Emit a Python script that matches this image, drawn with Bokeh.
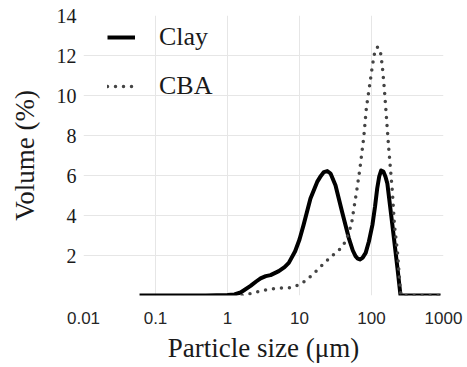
from bokeh.plotting import figure
from bokeh.models import FixedTicker, CustomJSTickFormatter, Legend, LegendItem
from bokeh.embed import file_html
from bokeh.resources import INLINE

# Particle size distribution data
clay_size = [0.06, 0.5, 1.0, 1.25, 1.52, 2.09, 2.5, 2.88, 3.4, 3.96, 5.16, 6.2, 7.1, 8.7, 10.0,
             11.4, 14.2, 17.6, 19.8, 21.8, 24.3, 27.0, 31.6, 39, 48.4, 55, 60, 64.5, 69, 75,
             83, 92, 103, 112, 120, 128, 136, 146, 156, 166, 195, 229, 253, 910]
clay_vol = [0.0, 0.0, 0.02, 0.05, 0.15, 0.48, 0.7, 0.86, 0.97, 1.02, 1.22, 1.42, 1.63, 2.21, 2.8,
            3.53, 4.85, 5.68, 5.98, 6.17, 6.22, 6.1, 5.51, 4.19, 2.87, 2.25, 1.97, 1.84, 1.8, 1.88,
            2.13, 2.7, 3.53, 4.45, 5.35, 5.95, 6.25, 6.2, 5.95, 5.6, 3.53, 1.39, 0.0, 0.0]

cba_size = [1.6, 2.2, 2.9, 3.7, 4.6, 6.0, 7.9, 10.2, 12.5, 15.2, 18.2, 21.8, 26.9, 32, 39, 44.6,
            52.5, 57, 63, 69, 78, 85, 95, 103, 110, 116, 122, 128, 134, 141, 151, 162, 174, 195,
            208, 229, 255, 910]
cba_vol = [0.0, 0.12, 0.23, 0.3, 0.35, 0.38, 0.4, 0.56, 0.78, 1.05, 1.32, 1.6, 1.91, 2.15, 2.41,
           2.79, 3.53, 4.36, 5.35, 6.34, 7.9, 9.4, 10.6, 11.5, 12.1, 12.38, 12.42, 12.38, 12.1, 11.5,
           10.3, 8.8, 7.3, 5.18, 3.53, 2.21, 0.0, 0.0]

x_ticks = [0.01, 0.1, 1, 10, 100, 1000]
y_ticks = [0, 2, 4, 6, 8, 10, 12, 14]

SERIF = "Liberation Serif"
SANS = "Liberation Sans"

p = figure(width=465, height=365, x_axis_type="log", x_range=(0.01, 1000), y_range=(0, 14),
           output_backend="svg", toolbar_location=None,
           min_border_left=83, min_border_right=22, min_border_top=15, min_border_bottom=67)
p.outline_line_color = None
p.background_fill_color = "white"
p.border_fill_color = "white"

clay_r = p.line(clay_size, clay_vol, line_color="black", line_width=4, line_join="round")
cba_r = p.line(cba_size, cba_vol, line_color="#444444", line_width=3.5, line_dash="0 8",
               line_cap="round", line_join="round")

# axes
p.xaxis.ticker = FixedTicker(ticks=x_ticks, minor_ticks=[])
p.xaxis.formatter = CustomJSTickFormatter(code="return String(tick);")
p.yaxis.ticker = FixedTicker(ticks=y_ticks, minor_ticks=[])
p.yaxis.major_label_overrides = {0: ""}

for ax in (p.xaxis[0], p.yaxis[0]):
    ax.axis_line_color = None
    ax.major_tick_line_color = None
    ax.minor_tick_line_color = None
    ax.major_tick_out = 0
    ax.major_tick_in = 0

p.xaxis.major_label_text_font = SANS
p.xaxis.major_label_text_font_size = "17px"
p.xaxis.major_label_text_color = "#262626"
p.xaxis.major_label_standoff = 16
p.xaxis.axis_label = "Particle size (μm)"
p.xaxis.axis_label_text_font = SERIF
p.xaxis.axis_label_text_font_size = "27px"
p.xaxis.axis_label_text_font_style = "normal"
p.xaxis.axis_label_text_color = "#1a1a1a"
p.xaxis.axis_label_standoff = 6

p.yaxis.major_label_text_font = SERIF
p.yaxis.major_label_text_font_size = "20px"
p.yaxis.major_label_text_color = "#1a1a1a"
p.yaxis.major_label_standoff = 7
p.yaxis.axis_label = "Volume (%)"
p.yaxis.axis_label_text_font = SERIF
p.yaxis.axis_label_text_font_size = "27px"
p.yaxis.axis_label_text_font_style = "normal"
p.yaxis.axis_label_text_color = "#1a1a1a"
p.yaxis.axis_label_standoff = 14

p.xgrid.grid_line_color = "#e6e6e6"
p.ygrid.grid_line_color = "#e6e6e6"
p.xgrid.grid_line_width = 1
p.ygrid.grid_line_width = 1

legend = Legend(items=[LegendItem(label="Clay", renderers=[clay_r]),
                       LegendItem(label="CBA", renderers=[cba_r])],
                location=(24, 194), padding=0, margin=0, spacing=19,
                glyph_width=28, glyph_height=30, label_height=30, label_standoff=24,
                label_text_font=SERIF, label_text_font_size="26px", label_text_color="#1a1a1a",
                background_fill_alpha=0, border_line_color=None)
p.add_layout(legend, "center")

open("out.html", "w").write(file_html(p, INLINE))
